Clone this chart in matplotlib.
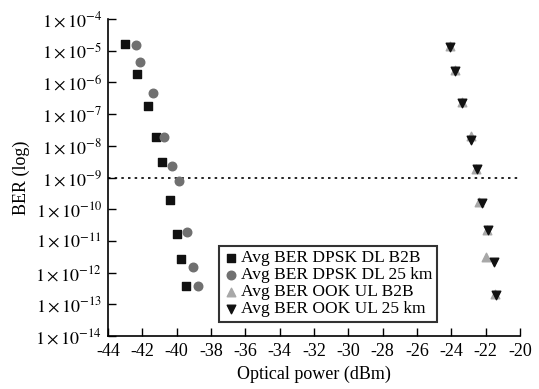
import matplotlib
matplotlib.use('Agg')
import matplotlib.pyplot as plt
import numpy as np

plt.rcParams['font.family'] = ['Liberation Serif', 'DejaVu Serif']
plt.rcParams['mathtext.fontset'] = 'stix'

# DPSK downlink, back-to-back (black squares)
dl_b2b_x = [-43.0, -42.3, -41.67, -41.19, -40.84, -40.39, -40.0, -39.77, -39.44]
dl_b2b_exp = [-4.78, -5.73, -6.74, -7.72, -8.5, -9.71, -10.78, -11.57, -12.42]

# DPSK downlink, 25 km (grey circles)
dl_25_x = [-42.35, -42.12, -41.4, -40.74, -40.27, -39.88, -39.4, -39.07, -38.74]
dl_25_exp = [-4.82, -5.37, -6.34, -7.71, -8.64, -9.11, -10.73, -11.83, -12.42]

# OOK uplink, back-to-back (light grey up triangles)
ul_b2b_x = [-24.1, -23.8, -23.38, -22.88, -22.55, -22.38, -21.92, -21.96, -21.45]
ul_b2b_exp = [-4.85, -5.62, -6.62, -7.68, -8.72, -9.76, -10.64, -11.52, -12.69]

# OOK uplink, 25 km (black down triangles)
ul_25_x = [-24.08, -23.77, -23.36, -22.86, -22.53, -22.24, -21.89, -21.52, -21.4]
ul_25_exp = [-4.87, -5.64, -6.66, -7.8, -8.74, -9.81, -10.66, -11.66, -12.71]

fig = plt.figure(figsize=(5.39, 3.89), dpi=100)
ax = fig.add_axes([0.2004, 0.1362, 0.7643, 0.8148])

ax.scatter(dl_b2b_x, 10.0 ** np.array(dl_b2b_exp), marker='s', s=30, color='#111111',
           label='Avg BER DPSK DL B2B', zorder=3)
ax.scatter(dl_25_x, 10.0 ** np.array(dl_25_exp), marker='o', s=38, color='#707070',
           label='Avg BER DPSK DL 25 km', zorder=3)
ax.scatter(ul_b2b_x, 10.0 ** np.array(ul_b2b_exp), marker='^', s=38, color='#a8a8a8',
           label='Avg BER OOK UL B2B', zorder=3)
ax.scatter(ul_25_x, 10.0 ** np.array(ul_25_exp), marker='v', s=38, color='#111111',
           label='Avg BER OOK UL 25 km', zorder=4)

# FEC threshold line
ax.axhline(1e-9, color='black', linestyle=(0, (1.5, 2.5)), linewidth=1.2, zorder=2)

ax.set_yscale('log')
ax.set_xlim(-44, -20)
ax.set_ylim(1e-14, 1e-4)

exps = list(range(-14, -3))
ax.set_yticks([10.0 ** e for e in exps])
ax.set_yticklabels([r'$1\times10^{%d}$' % e for e in exps])
ax.yaxis.set_minor_locator(matplotlib.ticker.NullLocator())
ax.set_xticks(range(-44, -19, 2))
ax.set_xticklabels([str(v) for v in range(-44, -19, 2)])

ax.tick_params(direction='in', length=6, width=1, labelsize=13, pad=5)
ax.tick_params(axis='y', pad=4)
for s in ['top', 'right']:
    ax.spines[s].set_visible(False)
for s in ['left', 'bottom']:
    ax.spines[s].set_linewidth(1.2)

ax.set_xlabel('Optical power (dBm)', fontsize=13, labelpad=4)
ax.set_ylabel('BER (log)', fontsize=13, labelpad=4)

leg = ax.legend(loc='lower left', bbox_to_anchor=(0.27, 0.045), fontsize=12.5,
                frameon=True, fancybox=False, edgecolor='black', handletextpad=0.1,
                handlelength=0.9, borderpad=0.25, labelspacing=0.05, borderaxespad=0,
                scatterpoints=1)
leg.get_frame().set_linewidth(1.5)

fig.savefig('out.png', dpi=100)
